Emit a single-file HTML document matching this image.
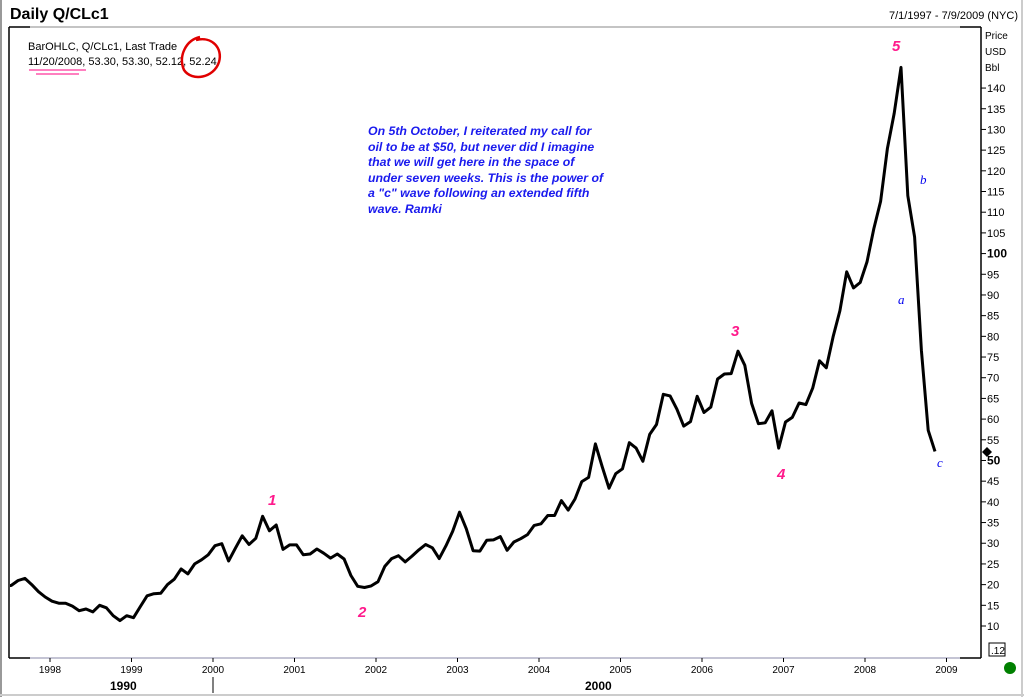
<!DOCTYPE html>
<html><head><meta charset="utf-8"><style>
body{margin:0;background:#fff;}
#c{position:relative;width:1024px;height:697px;overflow:hidden;font-family:"Liberation Sans",sans-serif;}
svg text{font-family:"Liberation Sans",sans-serif;}
</style></head><body>
<div id="c">
<svg id="s" width="1024" height="697" xmlns="http://www.w3.org/2000/svg">
<defs><clipPath id="pc"><rect x="10" y="28" width="970" height="629"/></clipPath></defs>
<rect x="0" y="0" width="1024" height="697" fill="#fff"/>
<line x1="1" y1="0" x2="1" y2="697" stroke="#999" stroke-width="2"/>
<line x1="0" y1="695" x2="1024" y2="695" stroke="#ccc" stroke-width="2"/>
<line x1="1022" y1="0" x2="1022" y2="697" stroke="#ccc" stroke-width="2"/>
<text x="10" y="19" font-size="16" font-weight="bold">Daily Q/CLc1</text>
<text x="1018" y="19" font-size="11" text-anchor="end">7/1/1997 - 7/9/2009 (NYC)</text>
<line x1="9" y1="27" x2="30" y2="27" stroke="#000" stroke-width="1.5"/>
<line x1="30" y1="27" x2="960" y2="27" stroke="#888" stroke-width="1"/>
<line x1="960" y1="27" x2="981" y2="27" stroke="#000" stroke-width="1.5"/>
<line x1="9" y1="27" x2="9" y2="658" stroke="#000" stroke-width="1.5"/>
<line x1="981" y1="27" x2="981" y2="658" stroke="#000" stroke-width="1.5"/>
<line x1="9" y1="658" x2="30" y2="658" stroke="#000" stroke-width="1.5"/>
<line x1="30" y1="658" x2="960" y2="658" stroke="#8888aa" stroke-width="1"/>
<line x1="960" y1="658" x2="981" y2="658" stroke="#000" stroke-width="1.5"/>
<text x="28" y="50" font-size="11">BarOHLC, Q/CLc1, Last Trade</text>
<text x="28" y="65" font-size="11">11/20/2008, 53.30, 53.30, 52.12, 52.24</text>
<line x1="29" y1="70" x2="86" y2="70" stroke="#ff0080" stroke-width="1"/>
<line x1="36" y1="74" x2="79" y2="74" stroke="#ff0080" stroke-width="1"/>
<path d="M200,37 C186,40 178,56 184,70 C192,82 214,78 219,62 C223,48 212,36 196,40" fill="none" stroke="#e00000" stroke-width="2.5"/>
<text x="985" y="39" font-size="10">Price</text>
<text x="985" y="55" font-size="10">USD</text>
<text x="985" y="71" font-size="10">Bbl</text>
<g id="yaxis"></g>
<g id="xaxis"></g>
<text x="110" y="690" font-size="12" font-weight="bold">1990</text>
<line x1="213" y1="677" x2="213" y2="693" stroke="#000" stroke-width="1"/>
<text x="585" y="690" font-size="12" font-weight="bold">2000</text>
<g id="plot" clip-path="url(#pc)"></g>
<path d="M987,447 L992,452 L987,457 L982,452 Z" fill="#000"/>
<rect x="989" y="643" width="16" height="13" fill="#fff" stroke="#000" stroke-width="1"/>
<text x="991" y="654" font-size="10">.12</text>
<circle cx="1010" cy="668" r="6" fill="#008000"/>
<g font-size="15" font-weight="bold" font-style="italic" fill="#ff1a8c">
<text x="268" y="505">1</text><text x="358" y="617">2</text><text x="731" y="336">3</text><text x="777" y="479">4</text><text x="892" y="51">5</text>
</g>
<g font-size="13" font-style="italic" fill="#0000ee">
<text x="898" y="304" style="font-family:'Liberation Serif',serif">a</text><text x="920" y="184" style="font-family:'Liberation Serif',serif">b</text><text x="937" y="467" style="font-family:'Liberation Serif',serif">c</text>
</g>
<g font-size="12.3" font-weight="bold" font-style="italic" fill="#1a1aee">
<text x="368" y="135">On 5th October, I reiterated my call for</text>
<text x="368" y="151">oil to be at $50, but never did I imagine</text>
<text x="368" y="166">that we will get here in the space of</text>
<text x="368" y="182">under seven weeks. This is the power of</text>
<text x="368" y="197">a "c" wave following an extended fifth</text>
<text x="368" y="213">wave. Ramki</text>
</g>
</svg>
</div>
<script>
const startYear = 1997, startMonth = 7;
const closes = [
19.5,19.8,21,21.5,20,18.3,
17,16,15.5,15.5,14.8,13.7,14.1,13.4,15,14.4,12.5,11.3,
12.5,12,14.7,17.3,17.8,17.9,20,21.3,23.8,22.6,25,26,
27.2,29.4,29.9,25.7,28.8,31.8,29.7,31.2,36.5,33,34.4,28.5,
29.6,29.6,27.2,27.4,28.6,27.6,26.4,27.4,26.2,22.2,19.6,19.3,
19.7,20.7,24.4,26.3,27,25.5,26.9,28.4,29.7,28.9,26.3,29.4,
32.9,37.5,33.5,28.2,28.1,30.7,30.8,31.6,28.3,30.3,31.1,32.1,
34.3,34.7,36.7,36.7,40.3,38,40.7,44.9,45.9,54,48.5,43.3,
46.8,48,54.3,53,49.8,56.3,58.7,66,65.6,62.4,58.3,59.4,
65.5,61.6,62.9,69.7,70.9,71,76.4,73,63.8,58.9,59.1,62,
53,59.3,60.4,63.9,63.5,67.5,74.1,72.4,79.9,86.2,95.6,91.7,
93,98,106,112.6,125.4,133.9,145,114,104,76.6,57.3,52.2
];
const yTicks = [10,15,20,25,30,35,40,45,50,55,60,65,70,75,80,85,90,95,100,105,110,115,120,125,130,135,140];
const xYears = [1998,1999,2000,2001,2002,2003,2004,2005,2006,2007,2008,2009];
const NS='http://www.w3.org/2000/svg';
function yScale(v){return 626-(v-10)*4.138;}
function xScale(t){return 213+(t-2000)*81.5;}
const ya=document.getElementById('yaxis');
yTicks.forEach(v=>{
  const y=yScale(v);
  const l=document.createElementNS(NS,'line');
  
  
  l.setAttribute('x1',981);l.setAttribute('x2',986);l.setAttribute('y1',y);l.setAttribute('y2',y);l.setAttribute('stroke','#000');
  ya.appendChild(l);
  const t=document.createElementNS(NS,'text');
  
  
  t.setAttribute('x',987);t.setAttribute('y',y+4);t.setAttribute('font-size',(v===50||v===100)?'12':'11');
  if(v===50||v===100)t.setAttribute('font-weight','bold');
  t.textContent=v;ya.appendChild(t);
});
const xa=document.getElementById('xaxis');
xYears.forEach(yr=>{
  const x=xScale(yr);
  const l=document.createElementNS(NS,'line');
  
  
  l.setAttribute('x1',x);l.setAttribute('x2',x);l.setAttribute('y1',658);l.setAttribute('y2',662);l.setAttribute('stroke','#000');
  xa.appendChild(l);
  const t=document.createElementNS(NS,'text');
  
  
  t.setAttribute('x',x);t.setAttribute('y',673);t.setAttribute('font-size','10');t.setAttribute('text-anchor','middle');
  t.textContent=yr;xa.appendChild(t);
});
const pts=closes.map((v,i)=>{
  const t=startYear+(startMonth-1+i-0.7)/12;
  return xScale(t).toFixed(1)+','+yScale(v).toFixed(1);
});
const pl=document.createElementNS(NS,'polyline');


pl.setAttribute('points',pts.join(' '));
pl.setAttribute('fill','none');pl.setAttribute('stroke','#000');pl.setAttribute('stroke-width','3');pl.setAttribute('stroke-linejoin','round');
document.getElementById('plot').appendChild(pl);
</script>
</body></html>
